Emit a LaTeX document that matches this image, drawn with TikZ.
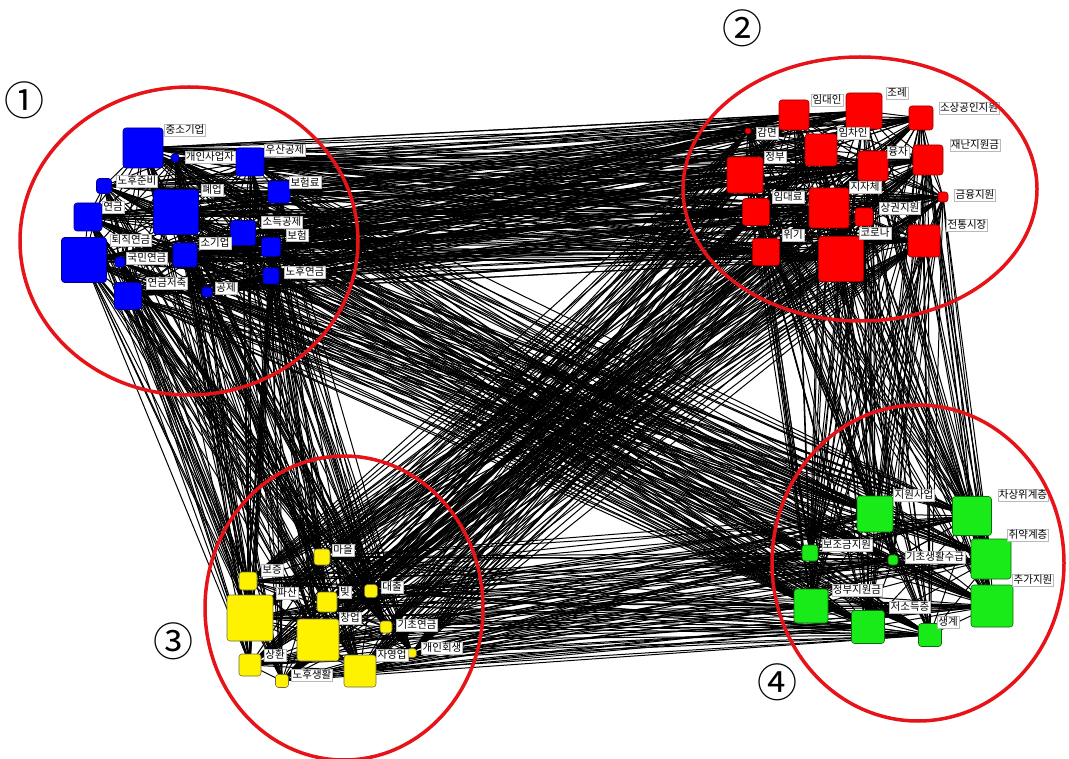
\documentclass[tikz,border=0pt]{standalone}
\usepackage{fontspec}
\newfontfamily\kr{Noto Sans CJK KR}
\usepackage{tikz}
\usetikzlibrary{backgrounds}
\definecolor{ringred}{RGB}{230,20,25}
\definecolor{vgreen}{RGB}{25,235,25}

\begin{document}
\begin{tikzpicture}[x=1pt,y=-1pt,
  vtx/.style={rounded corners=3pt,inner sep=0pt,line width=0.6pt,minimum size=#1pt},
  bnode/.style={vtx=#1,fill=blue,draw=blue!55!black},
  rnode/.style={vtx=#1,fill=red,draw=red!60!black},
  ynode/.style={vtx=#1,fill=yellow,draw=yellow!35!black},
  gnode/.style={vtx=#1,fill=vgreen,draw=vgreen!45!black},
  edge/.style={line width=1pt,black},
  lab/.style={fill=white,draw=gray!55,line width=0.3pt,inner sep=1.2pt,font=\kr\fontsize{10.5}{11}\selectfont},
  ring/.style={draw=ringred,line width=3.5pt},
  num/.style={font=\kr\fontsize{40}{40}\selectfont,inner sep=0pt}]
\useasboundingbox (0,0) rectangle (1069,759);

% Cluster 1
\node[bnode=40] (b1) at (143,148) {};
\node[bnode=8]  (b2) at (175,158) {};
\node[bnode=28] (b3) at (250,162) {};
\node[bnode=15] (b4) at (104,186) {};
\node[bnode=45] (b5) at (176,212) {};
\node[bnode=22] (b6) at (279,192) {};
\node[bnode=28] (b7) at (88,217) {};
\node[bnode=25] (b8) at (243,233) {};
\node[bnode=45] (b9) at (84,260) {};
\node[bnode=24] (b10) at (185,255) {};
\node[bnode=19] (b11) at (271,247) {};
\node[bnode=10] (b12) at (120,262) {};
\node[bnode=16] (b13) at (271,276) {};
\node[bnode=27] (b14) at (128,296) {};
\node[bnode=10] (b15) at (207,292) {};

% Cluster 2
\node[rnode=30] (r1) at (794,115) {};
\node[rnode=36] (r2) at (864,111) {};
\node[rnode=24] (r3) at (921,118) {};
\node[rnode=6]  (r4) at (748,131) {};
\node[rnode=32] (r5) at (821,150) {};
\node[rnode=36] (r6) at (745,175) {};
\node[rnode=30] (r7) at (873,166) {};
\node[rnode=30] (r8) at (928,160) {};
\node[rnode=40] (r9) at (829,208) {};
\node[rnode=27] (r10) at (756,212) {};
\node[rnode=18] (r11) at (864,217) {};
\node[rnode=10] (r12) at (943,197) {};
\node[rnode=32] (r13) at (924,241) {};
\node[rnode=27] (r14) at (766,252) {};
\node[rnode=45] (r15) at (841,259) {};

% Cluster 3
\node[ynode=16] (y1) at (322,557) {};
\node[ynode=18] (y2) at (248,581) {};
\node[ynode=46] (y3) at (250,618) {};
\node[ynode=20] (y4) at (327,602) {};
\node[ynode=13] (y5) at (371,591) {};
\node[ynode=42] (y6) at (318,640) {};
\node[ynode=12] (y7) at (386,627) {};
\node[ynode=22] (y8) at (250,665) {};
\node[ynode=32] (y9) at (360,671) {};
\node[ynode=9]  (y10) at (412,653) {};
\node[ynode=13] (y11) at (282,681) {};

% Cluster 4
\node[gnode=36] (g1) at (875,514) {};
\node[gnode=39] (g2) at (972,516) {};
\node[gnode=16] (g3) at (810,553) {};
\node[gnode=10] (g4) at (893,560) {};
\node[gnode=40] (g5) at (991,559) {};
\node[gnode=34] (g6) at (811,606) {};
\node[gnode=42] (g7) at (992,606) {};
\node[gnode=33] (g8) at (868,627) {};
\node[gnode=23] (g9) at (930,635) {};

% Links
\begin{pgfonlayer}{background}
\foreach \i in {1,...,15}{
  \foreach \j in {1,...,15}{
    \draw[edge] (b\i.center) -- (r\j.center);
    \ifnum\j>\i \draw[edge] (b\i.center) -- (b\j.center); \draw[edge] (r\i.center) -- (r\j.center);\fi
  }
  \foreach \j in {1,...,11}{
    \draw[edge] (b\i.center) -- (y\j.center);
    \draw[edge] (r\i.center) -- (y\j.center);
  }
  \foreach \j in {1,...,9}{
    \draw[edge] (b\i.center) -- (g\j.center);
    \draw[edge] (r\i.center) -- (g\j.center);
  }
}
\foreach \i in {1,...,11}{
  \foreach \j in {1,...,9}
    \draw[edge] (y\i.center) -- (g\j.center);
  \foreach \j in {1,...,11}
    {\ifnum\j>\i \draw[edge] (y\i.center) -- (y\j.center);\fi}
}
\foreach \i in {1,...,9}
  \foreach \j in {1,...,9}
    {\ifnum\j>\i \draw[edge] (g\i.center) -- (g\j.center);\fi}
\end{pgfonlayer}

% Labels
\node[lab] (lb1) at (185,130) {중소기업};
\node[lab] (lb2) at (210,157) {개인사업자};
\node[lab] (lb3) at (285,150) {우산공제};
\node[lab] (lb4) at (137,181) {노후준비};
\node[lab] (lb5) at (212,190) {폐업};
\node[lab] (lb6) at (305,182) {보험료};
\node[lab] (lb7) at (113,207) {연금};
\node[lab] (lb8) at (282,222) {소득공제};
\node[lab] (lb9) at (131,240) {퇴직연금};
\node[lab] (lb10) at (215,243) {소기업};
\node[lab] (lb11) at (297,235) {보험};
\node[lab] (lb12) at (147,258) {국민연금};
\node[lab] (lb13) at (305,272) {노후연금};
\node[lab] (lb14) at (167,283) {연금저축};
\node[lab] (lb15) at (226,288) {공제};

\node[lab] (lr1) at (827,100) {임대인};
\node[lab] (lr2) at (897,93) {조례};
\node[lab] (lr3) at (969,108) {소상공인지원};
\node[lab] (lr4) at (767,133) {감면};
\node[lab] (lr5) at (853,133) {임차인};
\node[lab] (lr6) at (775,157) {정부};
\node[lab] (lr7) at (898,152) {융자};
\node[lab] (lr8) at (975,145) {재난지원금};
\node[lab] (lr9) at (865,187) {지자체};
\node[lab] (lr10) at (788,197) {임대료};
\node[lab] (lr11) at (900,208) {상권지원};
\node[lab] (lr12) at (975,195) {금융지원};
\node[lab] (lr13) at (967,225) {전통시장};
\node[lab] (lr14) at (793,235) {위기};
\node[lab] (lr15) at (875,233) {코로나};

\node[lab] (ly1) at (343,550) {마을};
\node[lab] (ly2) at (272,570) {보증};
\node[lab] (ly3) at (287,593) {파산};
\node[lab] (ly4) at (345,592) {빚};
\node[lab] (ly5) at (392,587) {대출};
\node[lab] (ly6) at (350,618) {창업};
\node[lab] (ly7) at (417,625) {기초연금};
\node[lab] (ly8) at (275,655) {상환};
\node[lab] (ly9) at (392,655) {자영업};
\node[lab] (ly10) at (442,648) {개인회생};
\node[lab] (ly11) at (312,675) {노후생활};

\node[lab] (lg1) at (914,495) {지원사업};
\node[lab] (lg2) at (1023,495) {차상위계층};
\node[lab] (lg3) at (847,545) {보조금지원};
\node[lab] (lg4) at (935,557) {기초생활수급};
\node[lab] (lg5) at (1028,535) {취약계층};
\node[lab] (lg6) at (857,590) {정부지원금};
\node[lab] (lg7) at (1033,580) {추가지원};
\node[lab] (lg8) at (910,607) {저소득층};
\node[lab] (lg9) at (948,622) {생계};

% Groups
\draw[ring] (189,241) ellipse [x radius=169pt, y radius=154pt];
\draw[ring] (860,189) ellipse [x radius=177pt, y radius=132pt];
\draw[ring] (344,608) ellipse [x radius=139pt, y radius=152pt];
\draw[ring] (918,563) ellipse [x radius=146pt, y radius=158pt];

\node[num] (n1) at (25,100) {①};
\node[num] (n2) at (742,28) {②};
\node[num] (n3) at (173,641) {③};
\node[num] (n4) at (777,682) {④};
\end{tikzpicture}
\end{document}
